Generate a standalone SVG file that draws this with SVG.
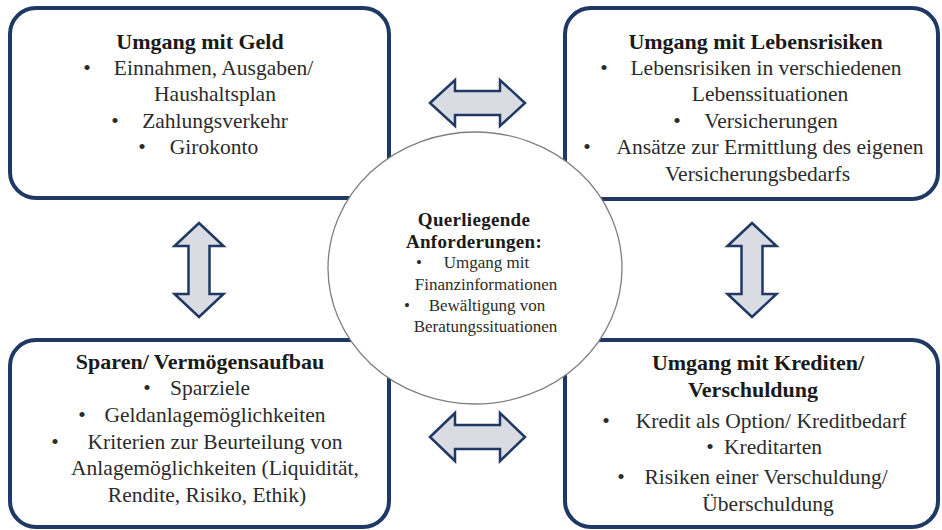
<svg xmlns="http://www.w3.org/2000/svg" width="942" height="530" viewBox="0 0 942 530">
  <style>
    .box { fill: #ffffff; stroke: #1f3864; stroke-width: 4; }
    .hub { fill: #ffffff; stroke: #7f7f7f; stroke-width: 1.3; }
    .arrow { fill: #d9dce2; stroke: #1f3864; stroke-width: 2.5; stroke-linejoin: miter; }
    text { font-family: "Liberation Serif", "DejaVu Serif", serif; text-anchor: middle; }
    .title { font-size: 22px; font-weight: bold; fill: #1a1a1a; }
    .item { font-size: 21.5px; fill: #2b2b2b; }
    .htitle { font-size: 19px; font-weight: bold; fill: #1a1a1a; letter-spacing: 0.3px; }
    .hitem { font-size: 17px; fill: #2b2b2b; }
  </style>

  <rect width="942" height="530" fill="#ffffff"/>

  <!-- top left: money handling -->
  <g id="geld">
    <rect class="box" x="10" y="8" width="379" height="190" rx="26"/>
    <text class="title" x="200" y="49">Umgang mit Geld</text>
    <text class="item" x="87" y="75">•</text>
    <text class="item" x="213.5" y="75">Einnahmen, Ausgaben/</text>
    <text class="item" x="215" y="101">Haushaltsplan</text>
    <text class="item" x="115" y="128">•</text>
    <text class="item" x="215" y="128">Zahlungsverkehr</text>
    <text class="item" x="142" y="154">•</text>
    <text class="item" x="214" y="154">Girokonto</text>
  </g>

  <!-- top right: life risks -->
  <g id="lebensrisiken">
    <rect class="box" x="565" y="8" width="373" height="191" rx="26"/>
    <text class="title" x="755.5" y="49">Umgang mit Lebensrisiken</text>
    <text class="item" x="604" y="75">•</text>
    <text class="item" x="766" y="75">Lebensrisiken in verschiedenen</text>
    <text class="item" x="770" y="101">Lebenssituationen</text>
    <text class="item" x="677" y="128">•</text>
    <text class="item" x="771" y="128">Versicherungen</text>
    <text class="item" x="587" y="154">•</text>
    <text class="item" x="770" y="154">Ansätze zur Ermittlung des eigenen</text>
    <text class="item" x="757.5" y="181">Versicherungsbedarfs</text>
  </g>

  <!-- bottom left: saving -->
  <g id="sparen">
    <rect class="box" x="10" y="340" width="379" height="187" rx="26"/>
    <text class="title" x="200" y="369">Sparen/ Vermögensaufbau</text>
    <text class="item" x="147" y="395">•</text>
    <text class="item" x="210" y="395">Sparziele</text>
    <text class="item" x="82" y="422">•</text>
    <text class="item" x="215" y="422">Geldanlagemöglichkeiten</text>
    <text class="item" x="55" y="449">•</text>
    <text class="item" x="215" y="449">Kriterien zur Beurteilung von</text>
    <text class="item" x="215" y="475">Anlagemöglichkeiten (Liquidität,</text>
    <text class="item" x="207" y="502">Rendite, Risiko, Ethik)</text>
  </g>

  <!-- bottom right: credit -->
  <g id="kredite">
    <rect class="box" x="565" y="340" width="373" height="187" rx="26"/>
    <text class="title" x="758" y="370">Umgang mit Krediten/</text>
    <text class="title" x="753" y="397">Verschuldung</text>
    <text class="item" x="606" y="428">•</text>
    <text class="item" x="771" y="428">Kredit als Option/ Kreditbedarf</text>
    <text class="item" x="710" y="454">•</text>
    <text class="item" x="773" y="454">Kreditarten</text>
    <text class="item" x="621" y="484">•</text>
    <text class="item" x="766" y="484">Risiken einer Verschuldung/</text>
    <text class="item" x="768" y="511">Überschuldung</text>
  </g>

  <!-- double-headed block arrows between the fields -->
  <g id="connectors">
    <path class="arrow" d="M430,103 L455,80 L455,91 L500,91 L500,80 L525,103 L500,126 L500,115 L455,115 L455,126 Z"/>
    <path class="arrow" d="M430,437 L455,413 L455,425 L500,425 L500,413 L525,437 L500,461 L500,449 L455,449 L455,461 Z"/>
    <path class="arrow" d="M199,223 L223.5,246 L209.5,246 L209.5,294 L223.5,294 L199,317 L174.5,294 L188.5,294 L188.5,246 L174.5,246 Z"/>
    <path class="arrow" d="M752,223 L776.5,246 L762.5,246 L762.5,294 L776.5,294 L752,317 L727.5,294 L741.5,294 L741.5,246 L727.5,246 Z"/>
  </g>

  <!-- central cross-cutting requirements -->
  <g id="querliegend">
    <ellipse class="hub" cx="475" cy="268" rx="147" ry="136"/>
    <text class="htitle" x="474" y="226">Querliegende</text>
    <text class="htitle" x="474" y="248">Anforderungen:</text>
    <text class="hitem" x="419" y="268">•</text>
    <text class="hitem" x="486.5" y="268">Umgang mit</text>
    <text class="hitem" x="486" y="290">Finanzinformationen</text>
    <text class="hitem" x="407" y="311">•</text>
    <text class="hitem" x="487" y="311">Bewältigung von</text>
    <text class="hitem" x="485.5" y="332">Beratungssituationen</text>
  </g>
</svg>
